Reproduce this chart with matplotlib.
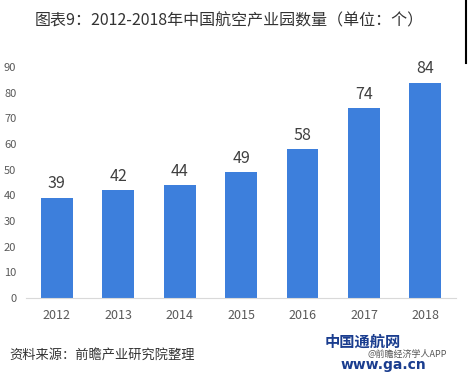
import matplotlib
matplotlib.use("Agg")
import matplotlib.pyplot as plt

plt.rcParams['font.family'] = ['Noto Sans CJK SC', 'DejaVu Sans']

years = ['2012', '2013', '2014', '2015', '2016', '2017', '2018']
counts = [39, 42, 44, 49, 58, 74, 84]
title = '图表9：2012-2018年中国航空产业园数量（单位：个）'
source = '资料来源：前瞻产业研究院整理'

fig = plt.figure(figsize=(4.68, 3.73), dpi=100)
ax = fig.add_axes([0.0556, 0.201, 0.919, 0.619])

x = range(len(years))
ax.bar(x, counts, width=0.52, color='#3d7fdc')
for xi, v in zip(x, counts):
    ax.text(xi, v + 2.2, str(v), ha='center', va='bottom', fontsize=11.5,
            color='#404040', clip_on=False)

ax.set_xlim(-0.5, 6.5)
ax.set_ylim(0, 90)
ax.set_yticks(range(0, 91, 10))
ax.set_xticks(list(x))
ax.set_xticklabels(years)
ax.tick_params(axis='y', length=0, pad=7, labelsize=8, labelcolor='#595959')
ax.tick_params(axis='x', length=0, pad=8, labelsize=9, labelcolor='#595959')
for s in ['top', 'right', 'left']:
    ax.spines[s].set_visible(False)
ax.spines['bottom'].set_color('#d9d9d9')

fig.text(0.49, 0.945, title, ha='center', va='center', fontsize=11.5, color='#333333')
fig.text(0.02, 0.048, source, ha='left', va='center', fontsize=9.5,
         color='#333333', style='italic')
# watermark logo text at bottom right
fig.text(0.775, 0.083, '中国通航网', ha='center', va='center', fontsize=11,
         color='#1a3d8f', fontweight='bold')
fig.text(0.82, 0.022, 'www.ga.cn', ha='center', va='center', fontsize=10,
         color='#1a3d8f', fontweight='bold', family='DejaVu Sans')
fig.text(0.87, 0.05, '@前瞻经济学人APP', ha='center', va='center', fontsize=6.5,
         color='#555555')
fig.add_artist(plt.Line2D([0.995, 0.995], [0.83, 1.0], color='black', lw=1.5))

fig.savefig('out.png', dpi=100)
